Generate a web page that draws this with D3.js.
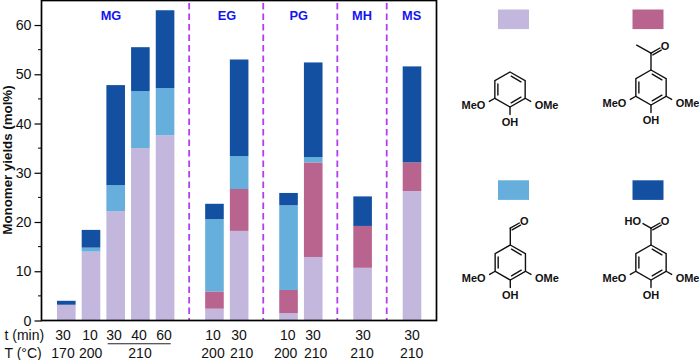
<!DOCTYPE html>
<html><head><meta charset="utf-8">
<script src="https://cdn.jsdelivr.net/npm/d3@7"></script>
<style>html,body{margin:0;padding:0;background:#fff}svg{display:block}text{font-family:"Liberation Sans",Arial,sans-serif}</style>
</head><body><svg id="c" width="699" height="360"></svg>
<script>
const slots = [0,1,2,3,4,6,7,9,10,12,14];
const lavender = [3.2,14,22.2,35,37.6,2.4,18.2,1.5,12.9,10.7,26.3];
const mauve = [0,0,0,0,0,3.5,8.5,4.7,19.2,8.5,5.8];
const lightBlue = [0,0.8,5.3,11.6,9.6,14.7,6.7,17.2,1.1,0,0];
const darkBlue = [0.8,3.6,20.3,8.9,15.8,3.1,19.6,2.5,19.2,6,19.5];
const seriesNames = ["lavender","mauve","lightBlue","darkBlue"];
const seriesValues = [lavender,mauve,lightBlue,darkBlue];
const colors = ["#c3b7dd","#b9638f","#66aedb","#1450a1"];
const yTicks = [0,10,20,30,40,50,60];
const yMinor = [5,15,25,35,45,55];
const dividers = [5,8,11,13];
const groups = [["MG",111],["EG",227],["PG",298.7],["MH",362],["MS",411.7]];
const tLabels = [["30",63],["10",90],["30",114],["40",139],["60",164],["10",213],["30",239],["10",287.7],["30",313],["30",363],["30",412]];
const TLabels = [["170",63],["200",90.7],["210",140],["200",213],["210",241.7],["200",285.7],["210",315.7],["210",362],["210",411.7]];

const svg = d3.select("#c");
const x = d3.scaleLinear().domain([0,14]).range([66.3,412]);
const y = d3.scaleLinear().domain([0,65]).range([320.5,0.4]);
const barW = 18.6;

// stacked bars
const table = slots.map((s,i)=>{const o={slot:s};seriesNames.forEach((n,k)=>o[n]=seriesValues[k][i]);return o;});
const stacked = d3.stack().keys(seriesNames)(table);
svg.append("g").selectAll("g").data(stacked).join("g")
  .attr("fill",(d,i)=>colors[i])
  .selectAll("rect").data(d=>d.filter(p=>p[1]>p[0])).join("rect")
  .attr("x",d=>x(d.data.slot)-barW/2).attr("width",barW)
  .attr("y",d=>y(d[1])).attr("height",d=>y(d[0])-y(d[1]));

// dividers
svg.append("g").selectAll("line").data(dividers).join("line")
  .attr("x1",d=>x(d)-0.6).attr("x2",d=>x(d)-0.6).attr("y1",3).attr("y2",320)
  .attr("stroke","#b43df2").attr("stroke-width",1.8).attr("stroke-dasharray","6.5,4");

// frame + axis
const axisG = svg.append("g").attr("transform","translate(41.5,0)")
  .call(d3.axisLeft(y).tickValues(yTicks).tickSize(7).tickPadding(3));
axisG.select(".domain").remove();
axisG.selectAll(".tick line").attr("stroke","#000").attr("stroke-width",1.2);
axisG.selectAll(".tick text").attr("fill","#111").style("font-size","14.2px").style("font-family",'"Liberation Sans",Arial,sans-serif');
svg.append("g").selectAll("line").data(yMinor).join("line")
  .attr("x1",38).attr("x2",41.5).attr("y1",d=>y(d)).attr("y2",d=>y(d)).attr("stroke","#000").attr("stroke-width",1);
svg.append("rect").attr("x",41.5).attr("y",0.5).attr("width",395).attr("height",320)
  .attr("fill","none").attr("stroke","#000").attr("stroke-width",1.7);

svg.append("text").attr("transform","translate(12.3,160) rotate(-90)").attr("text-anchor","middle")
  .attr("font-size",13.3).attr("font-weight","bold").attr("fill","#111").text("Monomer yields (mol%)");

svg.append("g").selectAll("text").data(groups).join("text")
  .attr("x",d=>d[1]).attr("y",20).attr("text-anchor","middle").attr("font-size",12.8)
  .attr("font-weight","bold").attr("fill","#1414ee").text(d=>d[0]);

const row=(data,yy)=>svg.append("g").selectAll("text").data(data).join("text")
  .attr("x",d=>d[1]).attr("y",yy).attr("text-anchor","middle").attr("font-size",14).attr("fill","#111").text(d=>d[0]);
row(tLabels,340); row(TLabels,358);
svg.append("text").attr("x",4.5).attr("y",340).attr("font-size",14).attr("fill","#111").text("t (min)");
svg.append("text").attr("x",4.5).attr("y",358).attr("font-size",14).attr("fill","#111").text("T (°C)");
svg.append("line").attr("x1",107.7).attr("x2",170.7).attr("y1",343.8).attr("y2",343.8).attr("stroke","#222").attr("stroke-width",1.1);

// legend swatches
const swatches = [[498,9.5,0],[632.5,9.5,1],[498,180.3,2],[632.5,180.3,3]];
svg.append("g").selectAll("rect").data(swatches).join("rect")
  .attr("x",d=>d[0]).attr("y",d=>d[1]).attr("width",31).attr("height",19.6).attr("fill",d=>colors[d[2]]);

// molecules
const molecules = [
 {cx:510,cy:89.5,top:null},
 {cx:651,cy:87.5,top:"acetyl"},
 {cx:510.3,cy:262.5,top:"aldehyde"},
 {cx:651,cy:262.5,top:"acid"}
];
const r=17.5, d2r=Math.PI/180;
const lineG = svg.append("g").attr("stroke","#111").attr("stroke-width",1.4).attr("fill","none").attr("stroke-linecap","round");
const labelG = svg.append("g").attr("fill","#111").attr("font-weight","bold").attr("font-size",11);
const lbl=(t,px,py,a)=>labelG.append("text").attr("x",px).attr("y",py+3.9).attr("text-anchor",a||"middle").text(t);
const seg=(a,b)=>lineG.append("path").attr("d",d3.line()([a,b]));
molecules.forEach((m,mi)=>{
  const V=d3.range(6).map(i=>[m.cx+r*Math.cos((-90+60*i)*d2r),m.cy+r*Math.sin((-90+60*i)*d2r)]);
  lineG.append("path").attr("d",d3.line().curve(d3.curveLinearClosed)(V));
  [[0,1],[2,3],[4,5]].forEach(([a,b])=>{
    const f=0.8, g=t=>[m.cx+(t[0]-m.cx)*f,m.cy+(t[1]-m.cy)*f];
    const p=g(V[a]),q=g(V[b]);
    const s=[p[0]+(q[0]-p[0])*0.1,p[1]+(q[1]-p[1])*0.1], e=[q[0]+(p[0]-q[0])*0.1,q[1]+(p[1]-q[1])*0.1];
    seg(s,e);
  });
  seg(V[3],[V[3][0],V[3][1]+7.5]);
  seg(V[2],[V[2][0]+5.5,V[2][1]+3.2]);
  seg(V[4],[V[4][0]-5.5,V[4][1]+3.2]);
  lbl("OH",m.cx,V[3][1]+14.8);
  lbl("OMe",V[2][0]+9.5,V[2][1]+7,"start");
  lbl("MeO",V[4][0]-9.5,V[4][1]+7,"end");
  const t=V[0], c=[t[0],t[1]-16.8];
  if(m.top){
    seg(t,c);
    const o=[c[0]+9,c[1]-5.2];
    const n=[0.5*2.4,0.87*2.4];
    seg(c,o);
    seg([c[0]+n[0]+0.6,c[1]+n[1]-0.4],[o[0]+n[0],o[1]+n[1]]);
    lbl("O",c[0]+14,c[1]-7.5);
    if(m.top==="acetyl") seg(c,[c[0]-14.3,c[1]-8]);
    if(m.top==="acid"){ seg(c,[c[0]-8,c[1]-4.6]); lbl("HO",c[0]-18.3,c[1]-7.6); }
  }
});
</script></body></html>
